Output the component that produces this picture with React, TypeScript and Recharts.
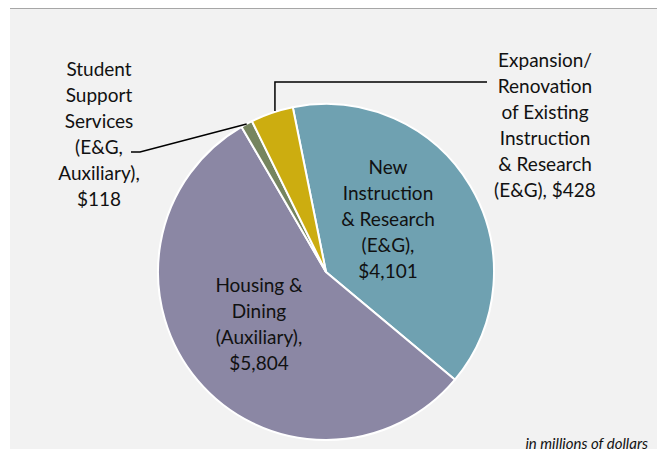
import { PieChart, Pie, Cell } from "recharts";

const categories = [
  "New Instruction & Research (E&G)",
  "Housing & Dining (Auxiliary)",
  "Student Support Services (E&G, Auxiliary)",
  "Expansion/Renovation of Existing Instruction & Research (E&G)",
];
const values = [4101, 5804, 118, 428];
const labelLines = [
  ["New", "Instruction", "& Research", "(E&G),", "$4,101"],
  ["Housing &", "Dining", "(Auxiliary),", "$5,804"],
  ["Student", "Support", "Services", "(E&G,", "Auxiliary),", "$118"],
  ["Expansion/", "Renovation", "of Existing", "Instruction", "& Research", "(E&G), $428"],
];
const colors = ["#6fa1b1", "#8b87a4", "#76855f", "#ccad10"];

const chartData = categories.map((name, i) => ({ name, value: values[i] }));

const RAD = Math.PI / 180;
const LINE_H = 26;

// label anchor (centre x, first baseline y) relative to pie centre, like manually dragged Excel labels
const labelPos = [
  { dx: 62, dy: -98 },
  { dx: -67, dy: 20 },
  { dx: -227, dy: -196 },
  { dx: 219, dy: -205 },
];

const renderLabel = (props: any) => {
  const { cx, cy, midAngle, outerRadius, index } = props;
  const pos = labelPos[index];
  const tx = cx + pos.dx;
  const ty = cy + pos.dy;
  const ex = cx + outerRadius * Math.cos(-midAngle * RAD);
  const ey = cy + outerRadius * Math.sin(-midAngle * RAD);
  let leader = null;
  if (index === 2) {
    const my = ty + LINE_H * 3 - 2;
    leader = (
      <polyline
        points={`${tx + 32},${my} ${tx + 41},${my} ${ex},${ey}`}
        fill="none"
        stroke="#000"
        strokeWidth={1.5}
      />
    );
  }
  if (index === 3) {
    const my = ty + 15;
    leader = (
      <polyline
        points={`${tx - 58},${my} ${ex + 3},${my} ${ex + 3},${ey - 2}`}
        fill="none"
        stroke="#000"
        strokeWidth={1.5}
      />
    );
  }
  return (
    <g>
      {leader}
      <text
        x={tx}
        y={ty}
        textAnchor="middle"
        fill="#111"
        fontSize={19}
        fontFamily="Lato, 'Noto Sans', sans-serif">
        {labelLines[index].map((line, i) => (
          <tspan key={i} x={tx} y={ty + i * LINE_H}>
            {line}
          </tspan>
        ))}
      </text>
    </g>
  );
};

export default function App() {
  return (
    <div
      style={{
        position: "relative",
        margin: -8,
        width: 665,
        height: 457,
        background: "#fff",
        overflow: "hidden",
      }}>
      <div
        style={{
          position: "absolute",
          left: 10,
          top: 0,
          width: 655,
          height: 457,
          background: "#f2f2f2",
        }}>
        <div
          style={{
            position: "absolute",
            left: 0,
            top: 7,
            width: 655,
            height: 2,
            background: "#a6a6a6",
          }}
        />
        <PieChart width={655} height={457} margin={{ top: 0, right: 0, bottom: 0, left: 0 }}>
          <Pie
            data={chartData}
            dataKey="value"
            nameKey="name"
            cx={316}
            cy={272}
            outerRadius={168}
            startAngle={101.4}
            endAngle={-258.6}
            stroke="#ffffff"
            strokeWidth={2}
            label={renderLabel}
            labelLine={false}
            isAnimationActive={false}>
            {chartData.map((d, i) => (
              <Cell key={d.name} fill={colors[i]} />
            ))}
          </Pie>
        </PieChart>
        <div
          style={{
            position: "absolute",
            right: 17,
            top: 435,
            lineHeight: "16px",
            fontFamily: "Lato, 'Noto Sans', sans-serif",
            fontStyle: "italic",
            fontSize: 15,
            color: "#111",
          }}>
          in millions of dollars
        </div>
      </div>
    </div>
  );
}
